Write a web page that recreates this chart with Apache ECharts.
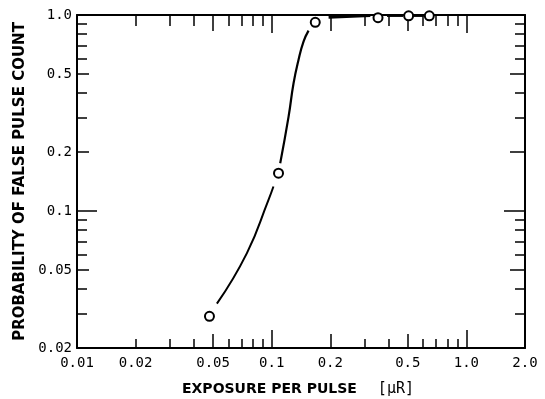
<!DOCTYPE html>
<html>
<head>
<meta charset="utf-8">
<script src="https://cdn.jsdelivr.net/npm/echarts@6/dist/echarts.min.js"></script>
<style>
html,body{margin:0;padding:0;background:#fff;}
#charts{width:545px;height:399px;}
</style>
</head>
<body>
<div id="charts"></div>
<script>
// measured points (exposure uR, probability)
var pointX = [0.0479, 0.1084, 0.1674, 0.3516, 0.505, 0.645];
var pointY = [0.029, 0.156, 0.918, 0.969, 0.99, 0.99];

// drawn curve, split where it stops short of the circles
var lowX = [0.0523, 0.0746, 0.0963, 0.1021];
var lowY = [0.0337, 0.061, 0.114, 0.1333];
var upX = [0.1106, 0.1221, 0.1295, 0.1373, 0.1457, 0.1546];
var upY = [0.1754, 0.303, 0.4487, 0.590, 0.731, 0.832];
var topX = [0.196, 0.321];
var topY = [0.975, 0.994];
var topX2 = [0.391, 0.473];
var topY2 = [0.992, 0.992];
var topX3 = [0.536, 0.603];
var topY3 = [0.992, 0.992];

// tick labels
var xLabels = [0.01, 0.02, 0.05, 0.1, 0.2, 0.5, 1, 2];
var yLabels = [0.02, 0.05, 0.1, 0.2, 0.5, 1];
var xMinor = [0.02, 0.03, 0.04, 0.06, 0.07, 0.08, 0.09, 0.3, 0.4, 0.6, 0.7, 0.8, 0.9];
var xMid = [0.05, 0.2, 0.5];
var xLong = [0.1, 1];
var yMinor = [0.03, 0.04, 0.06, 0.07, 0.08, 0.09, 0.3, 0.4, 0.6, 0.7, 0.8, 0.9];
var yMid = [0.05, 0.2, 0.5];
var yLong = [0.1];

function pairs(xs, ys){
	var out = [];
	for(var i=0;i<xs.length;i++){
		out.push([xs[i], ys[i]]);
	}
	return out;
}

function fmt(v){
	if(Math.abs(v-1)<1e-9) return '1.0';
	if(Math.abs(v-2)<1e-9) return '2.0';
	return String(+v.toFixed(3));
}

var monoFont = '"DejaVu Sans Mono", monospace';
var sansFont = '"DejaVu Sans", sans-serif';

// one axis per tick length, all on the same scale
function xAx(pos, ticks, len, withLabel){
	return {
		type: 'log',
		logBase: 10,
		position: pos,
		min: 0.01,
		max: 2,
		gridIndex: 0,
		axisLine: {show: withLabel, onZero: false, lineStyle: {color: '#000', width: 2}},
		axisTick: {show: true, inside: true, length: len, customValues: ticks, lineStyle: {color: '#000', width: 1.5}},
		axisLabel: withLabel && pos=='bottom' ? {
			show: true, customValues: xLabels, formatter: fmt, margin: 8, hideOverlap: false,
			color: '#000', fontFamily: monoFont, fontSize: 14
		} : {show: false},
		splitLine: {show: false},
		minorTick: {show: false}
	};
}
function yAx(pos, ticks, len, withLabel){
	return {
		type: 'log',
		logBase: 10,
		position: pos,
		min: 0.02,
		max: 1,
		gridIndex: 0,
		axisLine: {show: withLabel, onZero: false, lineStyle: {color: '#000', width: 2}},
		axisTick: {show: true, inside: true, length: len, customValues: ticks, lineStyle: {color: '#000', width: 1.5}},
		axisLabel: withLabel && pos=='left' ? {
			show: true, customValues: yLabels, formatter: fmt, margin: 5, hideOverlap: false,
			color: '#000', fontFamily: monoFont, fontSize: 14
		} : {show: false},
		splitLine: {show: false},
		minorTick: {show: false}
	};
}

var xAxes = [
	xAx('bottom', xMinor, 9, true),
	xAx('bottom', xMid, 14, false),
	xAx('bottom', xLong, 18, false),
	xAx('top', xMinor, 11, true),
	xAx('top', xMid, 16, false),
	xAx('top', xLong, 18, false)
];
xAxes[0].name = '{a|EXPOSURE PER PULSE}{b|[\u03bcR]}';
xAxes[0].nameLocation = 'middle';
xAxes[0].nameGap = 34;
xAxes[0].nameTextStyle = {
	rich: {
		a: {fontFamily: sansFont, fontWeight: 'bold', fontSize: 14, color: '#000'},
		b: {fontFamily: monoFont, fontSize: 15, color: '#000', padding: [0, 6, 0, 21]}
	}
};

var yAxes = [
	yAx('left', yMinor, 10, true),
	yAx('left', yMid, 12, false),
	yAx('left', yLong, 20, false),
	yAx('right', yMinor, 10, true),
	yAx('right', yMid, 15, false),
	yAx('right', yLong, 21, false)
];
yAxes[0].name = 'PROBABILITY OF FALSE PULSE COUNT';
yAxes[0].nameLocation = 'middle';
yAxes[0].nameGap = 46;
yAxes[0].nameTextStyle = {fontFamily: sansFont, fontWeight: 'bold', fontSize: 15, color: '#000'};

function curve(xs, ys, w){
	return {
		type: 'line',
		xAxisIndex: 0,
		yAxisIndex: 0,
		data: pairs(xs, ys),
		smooth: true,
		symbol: 'none',
		clip: false,
		lineStyle: {color: '#000', width: w},
		z: 3
	};
}

var charts = echarts.init(document.getElementById('charts'));
var option = {
	backgroundColor: '#fff',
	animation: false,
	grid: {left: 77, right: 20, top: 15, bottom: 51, containLabel: false, outerBoundsMode: 'none'},
	xAxis: xAxes,
	yAxis: yAxes,
	series: [
		curve(lowX, lowY, 2),
		curve(upX, upY, 2.2),
		curve(topX, topY, 3),
		curve(topX2, topY2, 2.5),
		curve(topX3, topY3, 2.5),
		{
			type: 'scatter',
			xAxisIndex: 0,
			yAxisIndex: 0,
			data: pairs(pointX, pointY),
			symbol: 'circle',
			symbolSize: 9,
			clip: false,
			itemStyle: {color: '#fff', borderColor: '#000', borderWidth: 2, opacity: 1},
			z: 5
		}
	]
};
charts.setOption(option);
</script>
</body>
</html>
